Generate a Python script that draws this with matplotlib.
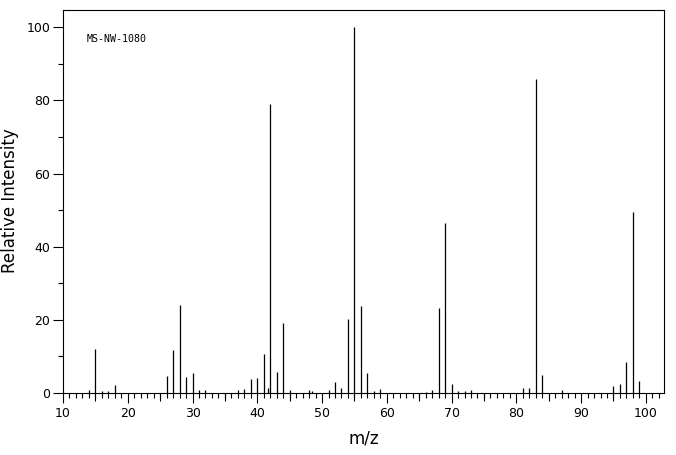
import matplotlib
matplotlib.use('Agg')
import matplotlib.pyplot as plt
from matplotlib.ticker import MultipleLocator

# peak list
mz = [14, 15, 16, 17, 18, 26, 27, 28, 29, 30, 31, 32, 37, 38, 39, 40, 41, 41.6,
      42, 43, 44, 45, 48, 48.5, 51, 52, 53, 54, 55, 56, 57, 58, 59, 66, 67, 68,
      69, 70, 71, 72, 73, 81, 82, 83, 84, 87, 95, 96, 97, 98, 99]
intensity = [0.8, 12.0, 0.4, 0.4, 2.0, 4.6, 11.8, 24.0, 4.4, 5.5, 0.6, 0.6, 0.6,
             1.1, 3.8, 4.1, 10.7, 1.3, 79.0, 5.7, 19.0, 0.7, 0.8, 0.5, 0.6, 2.9,
             1.2, 20.2, 100.0, 23.8, 5.3, 0.5, 0.9, 0.3, 0.6, 23.3, 46.4, 2.5,
             0.4, 0.4, 0.6, 1.4, 1.4, 86.0, 4.9, 0.6, 1.9, 2.5, 8.5, 49.5, 3.3]
x_major = list(range(10, 101, 10))
x_mid = list(range(15, 100, 10))
y_major = [0, 20, 40, 60, 80, 100]
spectrum_id = "MS-NW-1080"

fig = plt.figure(figsize=(6.76, 4.55), dpi=100)
ax = fig.add_axes([0.0932, 0.137, 0.889, 0.842])

ax.vlines(mz, 0, intensity, color='black', linewidth=0.9)

ax.set_xlim(10, 102.8)
ax.set_ylim(0, 104.9)

ax.set_xticks(x_major)
ax.xaxis.set_minor_locator(MultipleLocator(1))
ax.set_yticks(y_major)
ax.yaxis.set_minor_locator(MultipleLocator(10))

ax.tick_params(axis='both', which='major', direction='out', length=7.2, width=0.8,
               labelsize=9, colors='black')
ax.tick_params(axis='x', which='minor', direction='out', length=3.6, width=0.8)
ax.tick_params(axis='y', which='minor', direction='out', length=3.6, width=0.8)
ax.tick_params(axis='x', which='major', pad=3)
ax.tick_params(axis='y', which='major', pad=2)

# medium ticks at the fives
sec = ax.secondary_xaxis('bottom')
sec.set_xticks(x_mid)
sec.set_xticklabels([])
sec.tick_params(axis='x', direction='out', length=5.8, width=0.8)
sec.spines['bottom'].set_visible(False)

for s in ax.spines.values():
    s.set_linewidth(0.8)

ax.set_xlabel('m/z', fontsize=12, labelpad=7)
ax.set_ylabel('Relative Intensity', fontsize=12, labelpad=5)

ax.text(0.04, 0.922, spectrum_id, transform=ax.transAxes, fontsize=7.2,
        family='DejaVu Sans Mono', va='center', ha='left')

fig.savefig('out.png', dpi=100)
